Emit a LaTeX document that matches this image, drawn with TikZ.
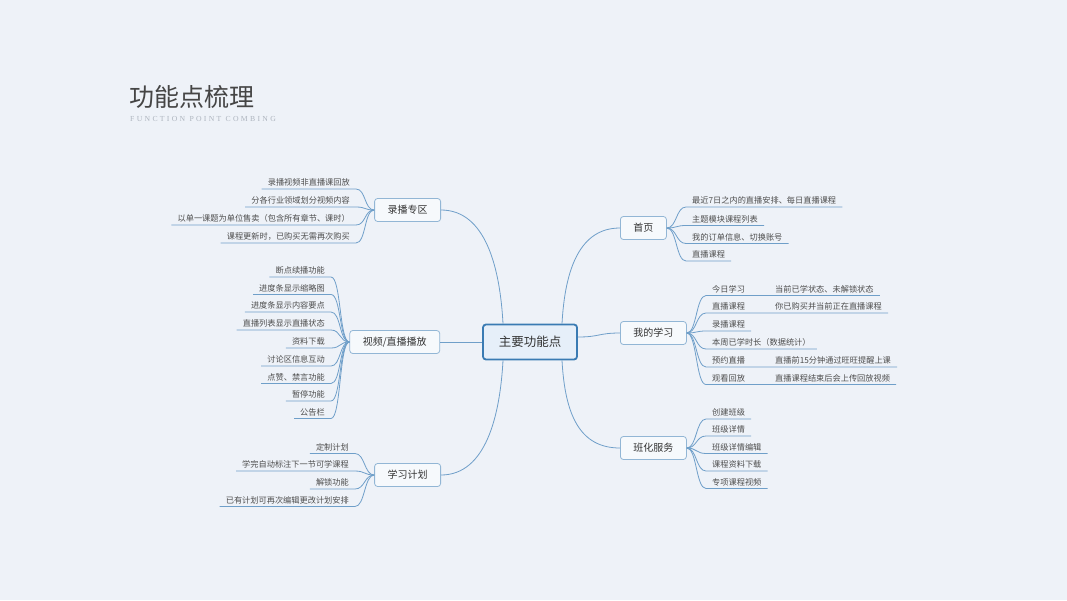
\documentclass[tikz,border=0pt]{standalone}
\usepackage{fontspec}
\setmainfont{Noto Sans CJK SC}
\newfontfamily\subfont[LetterSpace=30]{Liberation Serif}
\usetikzlibrary{positioning}

\definecolor{bgcol}{HTML}{EEF2F8}
\definecolor{linecol}{HTML}{6F9FC9}
\definecolor{maindraw}{HTML}{3A7BB3}
\definecolor{mainfill}{HTML}{E6EFF9}
\definecolor{branchdraw}{HTML}{92B6D5}
\definecolor{branchfill}{HTML}{F6F9FC}
\definecolor{textcol}{HTML}{333333}
\definecolor{leaftext}{HTML}{4D4D4D}
\definecolor{titlecol}{HTML}{454545}
\definecolor{subcol}{HTML}{ADB4BE}

\begin{document}
\begin{tikzpicture}[x=1pt, y=-1pt,
        mainnode/.style={rectangle, draw=maindraw, line width=1.8pt, fill=mainfill, rounded corners=3pt, minimum width=94pt, minimum height=35pt, font=\fontsize{12.5}{14}\selectfont, text=textcol},
        branch/.style={rectangle, draw=branchdraw, line width=0.8pt, fill=branchfill, rounded corners=3pt, minimum height=23pt, inner xsep=13pt, font=\fontsize{10}{12}\selectfont, text=textcol},
        leaf/.style={inner xsep=6pt, inner ysep=2pt, text height=7pt, text depth=1pt, font=\fontsize{8.2}{10}\selectfont, text=leaftext},
        link/.style={draw=linecol, line width=0.8pt}]

    \fill[bgcol] (0,0) rectangle (1067,600);

    % title
    \node[anchor=west, inner sep=0pt, font=\fontsize{25}{28}\selectfont, text=titlecol] (title) at (129, 97) {功能点梳理};
    \node[anchor=west, inner sep=0pt, font=\subfont\fontsize{7.7}{9}\selectfont, text=subcol] (subtitle) at (130, 119) {FUNCTION POINT COMBING};

    % centre and branches
    \node[mainnode] (main) at (530, 342) {主要功能点};
    \node[branch, anchor=east] (rec) at (441, 210) {录播专区};
    \node[branch, left=42pt of main] (video) {视频/直播播放};
    \node[branch, anchor=east] (plan) at (441, 475) {学习计划};
    \node[branch, anchor=west] (home) at (620, 228) {首页};
    \node[branch, anchor=west] (mine) at (620, 333) {我的学习};
    \node[branch, anchor=west] (klass) at (620, 448) {班化服务};

    \draw[link] (rec.east) .. controls +(45,0) and +(-3,-55) .. ([xshift=-27pt]main.north);
    \draw[link] (video.east) -- (main.west);
    \draw[link] (plan.east) .. controls +(45,0) and +(-3,55) .. ([xshift=-27pt]main.south);
    \draw[link] (home.west) .. controls +(-40,0) and +(3,-55) .. ([xshift=32pt]main.north);
    \draw[link] (mine.west) .. controls +(-22,0) and +(22,0) .. ([yshift=5pt]main.east);
    \draw[link] (klass.west) .. controls +(-40,0) and +(3,55) .. ([xshift=32pt]main.south);

    % 录播专区
    \node[leaf, anchor=south east] (r1) at (356, 189) {录播视频非直播课回放};
    \node[leaf, anchor=south east] (r2) at (356, 207) {分各行业领域划分视频内容};
    \node[leaf, anchor=south east] (r3) at (356, 225) {以单一课题为单位售卖（包含所有章节、课时）};
    \node[leaf, anchor=south east] (r4) at (356, 243) {课程更新时，已购买无需再次购买};
    \foreach \n in {r1,r2,r3,r4}
        \draw[link] (rec.west) .. controls +(-10,0) and +(10,0) .. (\n.south east) -- (\n.south west);

    % 视频/直播播放
    \node[leaf, anchor=south east] (v1) at (331, 277) {断点续播功能};
    \node[leaf, anchor=south east] (v2) at (331, 294.5) {进度条显示缩略图};
    \node[leaf, anchor=south east] (v3) at (331, 312) {进度条显示内容要点};
    \node[leaf, anchor=south east] (v4) at (331, 330) {直播列表显示直播状态};
    \node[leaf, anchor=south east] (v5) at (331, 348) {资料下载};
    \node[leaf, anchor=south east] (v6) at (331, 366) {讨论区信息互动};
    \node[leaf, anchor=south east] (v7) at (331, 383.5) {点赞、禁言功能};
    \node[leaf, anchor=south east] (v8) at (331, 401) {暂停功能};
    \node[leaf, anchor=south east] (v9) at (331, 418.5) {公告栏};
    \foreach \n in {v1,v2,v3,v4,v5,v6,v7,v8,v9}
        \draw[link] (video.west) .. controls +(-10,0) and +(10,0) .. (\n.south east) -- (\n.south west);

    % 学习计划
    \node[leaf, anchor=south east] (p1) at (355, 453.5) {定制计划};
    \node[leaf, anchor=south east] (p2) at (355, 471) {学完自动标注下一节可学课程};
    \node[leaf, anchor=south east] (p3) at (355, 489) {解锁功能};
    \node[leaf, anchor=south east] (p4) at (355, 506.5) {已有计划可再次编辑更改计划安排};
    \foreach \n in {p1,p2,p3,p4}
        \draw[link] (plan.west) .. controls +(-10,0) and +(10,0) .. (\n.south east) -- (\n.south west);

    % 首页
    \node[leaf, anchor=south west] (h1) at (686, 207) {最近7日之内的直播安排、每日直播课程};
    \node[leaf, anchor=south west] (h2) at (686, 225.5) {主题模块课程列表};
    \node[leaf, anchor=south west] (h3) at (686, 243.5) {我的订单信息、切换账号};
    \node[leaf, anchor=south west] (h4) at (686, 261) {直播课程};
    \foreach \n in {h1,h2,h3,h4}
        \draw[link] (home.east) .. controls +(10,0) and +(-10,0) .. (\n.south west) -- (\n.south east);

    % 我的学习
    \node[leaf, anchor=south west] (m1) at (706, 295.5) {\makebox[63pt][l]{今日学习}当前已学状态、未解锁状态};
    \node[leaf, anchor=south west] (m2) at (706, 313) {\makebox[63pt][l]{直播课程}你已购买并当前正在直播课程};
    \node[leaf, anchor=south west] (m3) at (706, 331) {录播课程};
    \node[leaf, anchor=south west] (m4) at (706, 349) {本周已学时长（数据统计）};
    \node[leaf, anchor=south west] (m5) at (706, 367) {\makebox[63pt][l]{预约直播}直播前15分钟通过旺旺提醒上课};
    \node[leaf, anchor=south west] (m6) at (706, 384.5) {\makebox[63pt][l]{观看回放}直播课程结束后会上传回放视频};
    \foreach \n in {m1,m2,m3,m4,m5,m6}
        \draw[link] (mine.east) .. controls +(10,0) and +(-10,0) .. (\n.south west) -- (\n.south east);

    % 班化服务
    \node[leaf, anchor=south west] (k1) at (706, 419) {创建班级};
    \node[leaf, anchor=south west] (k2) at (706, 436) {班级详情};
    \node[leaf, anchor=south west] (k3) at (706, 453.5) {班级详情编辑};
    \node[leaf, anchor=south west] (k4) at (706, 471) {课程资料下载};
    \node[leaf, anchor=south west] (k5) at (706, 488.5) {专项课程视频};
    \foreach \n in {k1,k2,k3,k4,k5}
        \draw[link] (klass.east) .. controls +(10,0) and +(-10,0) .. (\n.south west) -- (\n.south east);
\end{tikzpicture}
\end{document}
